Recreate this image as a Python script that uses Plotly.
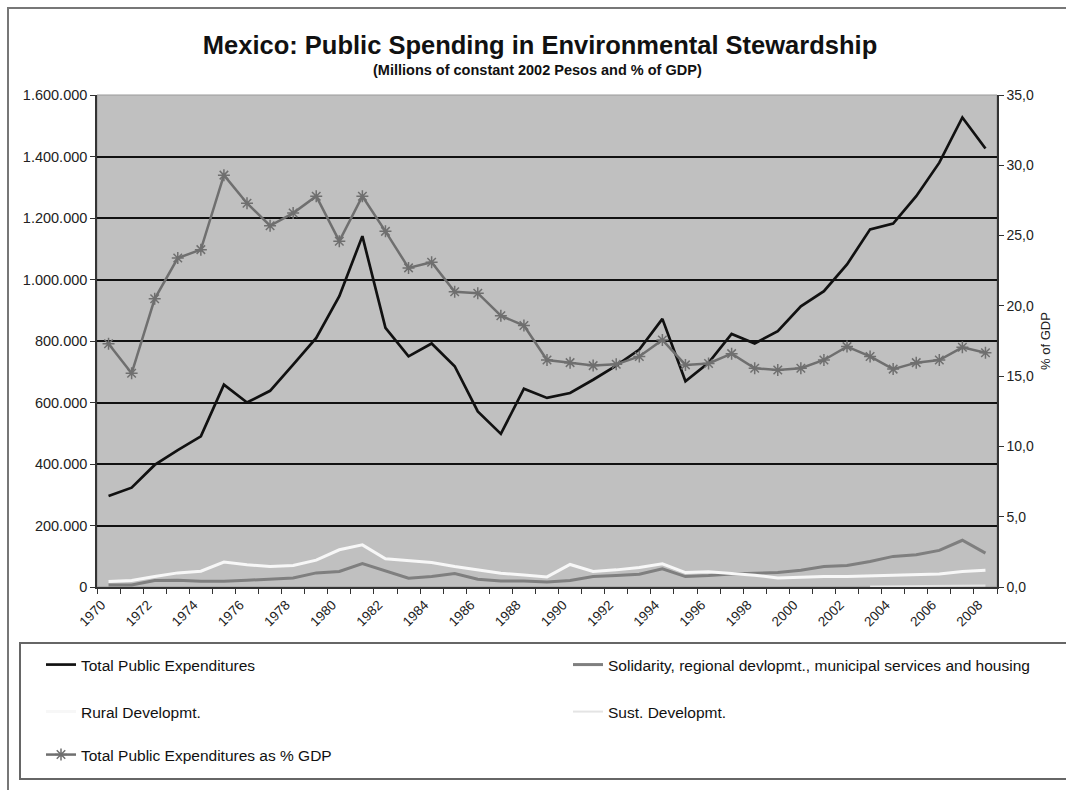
import plotly.graph_objects as go

# Years on the category axis
years = list(range(1970, 2009))
year_labels = [str(y) for y in range(1970, 2009, 2)]

# Millions of constant 2002 pesos
total_public = [296000, 323000, 397000, 445000, 490000, 658000, 600000, 638000, 723000, 810000,
                946000, 1141000, 843000, 750000, 792000, 718000, 571000, 498000, 645000, 615000,
                631000, 674000, 720000, 772000, 872000, 669000, 729000, 823000, 792000, 832000,
                913000, 962000, 1049000, 1163000, 1182000, 1271000, 1380000, 1527000, 1426000]

solidarity = [6600, 6600, 20800, 21900, 18600, 18600, 21900, 25100, 29500, 45900,
              50300, 76500, 52500, 28400, 33900, 43700, 25100, 19700, 19700, 16400,
              20800, 33900, 37200, 41500, 59000, 33900, 37200, 42600, 44800, 47000,
              54700, 66700, 70000, 83000, 99500, 105000, 119000, 152000, 110000]

rural = [17500, 20800, 33900, 45900, 51400, 80900, 72100, 66700, 70000, 87400,
         121000, 137000, 91800, 85300, 79800, 66700, 54700, 44800, 39300, 32800,
         73200, 50300, 55700, 63400, 75400, 47000, 49200, 44800, 38300, 29500,
         32800, 33900, 33900, 36000, 37200, 41500, 42600, 50300, 54700]

sustainable = [None] * 33 + [2000, 3000, 3000, 4000, 4000, 5000]

# Total public expenditures as % of GDP
pct_gdp = [17.3, 15.2, 20.5, 23.4, 24.0, 29.3, 27.3, 25.7, 26.6, 27.8,
           24.6, 27.8, 25.3, 22.7, 23.1, 21.0, 20.9, 19.3, 18.6, 16.15,
           15.96, 15.75, 15.84, 16.4, 17.57, 15.8, 15.9, 16.6, 15.56, 15.44,
           15.56, 16.15, 17.1, 16.4, 15.5, 15.96, 16.15, 17.05, 16.67]

FONT = "Liberation Sans, Arial, sans-serif"

# pixel geometry of the plotting area
W, H = 1066, 790
L, R, T, B = 97, 997, 95, 587


def px_x(p):
    return (p - L) / (R - L)


def px_y(p):
    return (B - p) / (B - T)


fig = go.Figure()

fig.add_trace(go.Scatter(x=years, y=total_public, name="Total Public Expenditures",
                         mode="lines", line=dict(color="#111111", width=2.7),
                         legend="legend"))
fig.add_trace(go.Scatter(x=years, y=solidarity,
                         name="Solidarity, regional devlopmt., municipal services and housing",
                         mode="lines", line=dict(color="#7f7f7f", width=3),
                         legend="legend2"))
fig.add_trace(go.Scatter(x=years, y=rural, name="Rural Developmt.",
                         mode="lines", line=dict(color="#f7f7f7", width=3),
                         legend="legend3"))
fig.add_trace(go.Scatter(x=years, y=sustainable, name="Sust. Developmt.",
                         mode="lines", line=dict(color="#e4e4e4", width=2),
                         legend="legend4"))
fig.add_trace(go.Scatter(x=years, y=pct_gdp, name="Total Public Expenditures as % GDP",
                         mode="lines+markers", yaxis="y2",
                         line=dict(color="#6f6f6f", width=2.5),
                         marker=dict(symbol="asterisk-open", size=10,
                                     line=dict(color="#404040", width=1.5)),
                         legend="legend5"))

legend_common = dict(orientation="h", xanchor="left", yanchor="middle",
                     bgcolor="rgba(0,0,0,0)",
                     font=dict(family=FONT, size=15.5, color="#111111"))

col1, col2 = px_x(41), px_x(568)
row1, row2, row3 = px_y(665), px_y(712), px_y(755)

fig.update_layout(
    width=W, height=H,
    margin=dict(l=L, r=W - R, t=T, b=H - B),
    paper_bgcolor="white",
    plot_bgcolor="#c0c0c0",
    separators=",.",
    font=dict(family=FONT, size=14, color="#222222"),
    showlegend=True,
    title=dict(text="<b>Mexico: Public Spending in Environmental Stewardship</b>",
               x=540 / W, xanchor="center", y=1 - 45 / H, yanchor="middle",
               font=dict(family=FONT, size=25.5, color="#111111")),
    xaxis=dict(range=[1969.5, 2008.5], tickmode="array", tickvals=list(range(1970, 2009, 2)),
               ticktext=year_labels, tickangle=-45, ticks="", showgrid=False, zeroline=False,
               showline=True, linecolor="#333333", linewidth=1.5,
               ticklabelshift=-7, ticklabelstandoff=3,
               tickfont=dict(family=FONT, size=13.5, color="#222222"),
               minor=dict(tickmode="linear", tick0=1969.5, dtick=1, ticks="outside",
                          ticklen=5, tickcolor="#333333", showgrid=False)),
    yaxis=dict(range=[0, 1600000], dtick=200000, tickformat=",d", showgrid=True,
               gridcolor="#111111", gridwidth=1.5, zeroline=False, showline=True,
               linecolor="#333333", linewidth=1.5, ticks="outside", ticklen=5,
               tickcolor="#333333", tickfont=dict(family=FONT, size=14.5, color="#222222")),
    yaxis2=dict(range=[0, 35], dtick=5, tickformat=".1f", overlaying="y", side="right",
                showgrid=False, zeroline=False, showline=True, linecolor="#333333",
                linewidth=1.5, ticks="outside", ticklen=5, tickcolor="#333333",
                tickfont=dict(family=FONT, size=14, color="#222222"),
                title=dict(text="% of GDP", standoff=8,
                           font=dict(family=FONT, size=13, color="#222222"))),
    legend=dict(legend_common, x=col1, y=row1),
    legend2=dict(legend_common, x=col2, y=row1),
    legend3=dict(legend_common, x=col1, y=row2),
    legend4=dict(legend_common, x=col2, y=row2),
    legend5=dict(legend_common, x=col1, y=row3),
    annotations=[dict(text="<b>(Millions of constant 2002 Pesos and % of GDP)</b>",
                      xref="paper", yref="paper", x=px_x(537), y=px_y(70),
                      xanchor="center", yanchor="middle", showarrow=False,
                      font=dict(family=FONT, size=14.5, color="#111111"))],
    shapes=[
        # frame around the whole chart
        dict(type="rect", xref="paper", yref="paper", x0=px_x(8), x1=px_x(1080),
             y0=px_y(805), y1=px_y(8), line=dict(color="#777777", width=2), layer="below"),
        # plot area border
        dict(type="rect", xref="paper", yref="paper", x0=0, x1=1, y0=0, y1=1,
             line=dict(color="#999999", width=1), layer="below"),
        # legend box
        dict(type="rect", xref="paper", yref="paper", x0=px_x(20), x1=px_x(1080),
             y0=px_y(779), y1=px_y(643), line=dict(color="#666666", width=2)),
    ],
)

fig.write_html("out.html")
